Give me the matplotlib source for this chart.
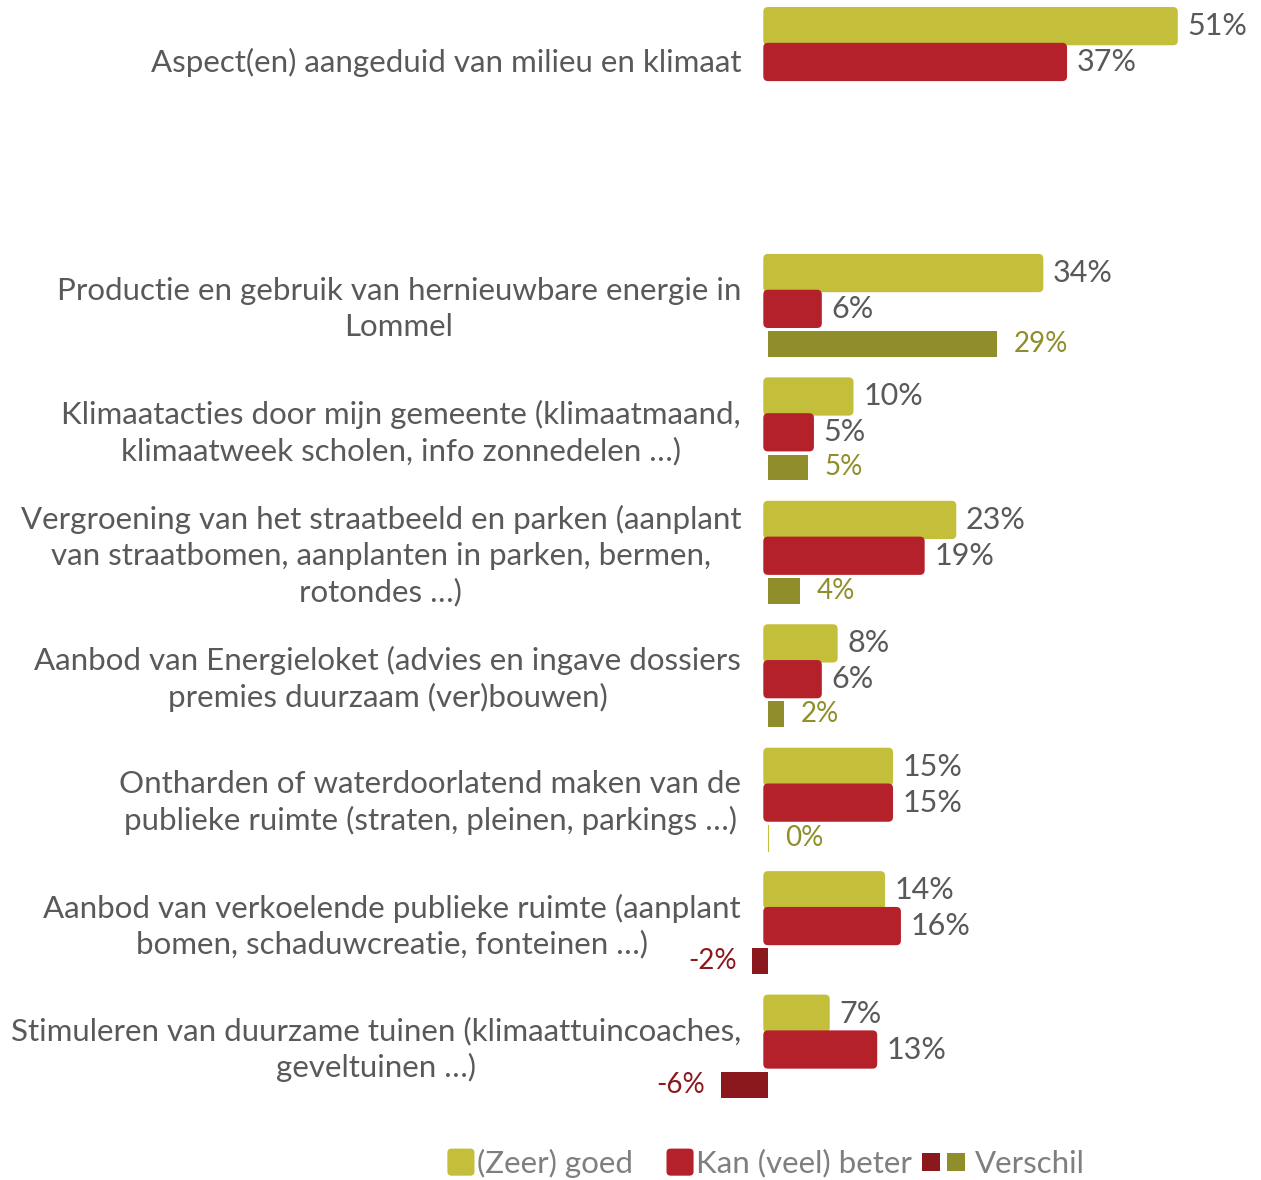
import numpy as np
import matplotlib
matplotlib.use('Agg')
import matplotlib.pyplot as plt
from matplotlib.patches import FancyBboxPatch, Rectangle
from matplotlib.legend_handler import HandlerBase

# Data
categories = [
    'Aspect(en) aangeduid van milieu en klimaat',
    '',
    'Productie en gebruik van hernieuwbare energie in\nLommel',
    'Klimaatacties door mijn gemeente (klimaatmaand,\nklimaatweek scholen, info zonnedelen …)',
    'Vergroening van het straatbeeld en parken (aanplant\nvan straatbomen, aanplanten in parken, bermen,\nrotondes …)',
    'Aanbod van Energieloket (advies en ingave dossiers\npremies duurzaam (ver)bouwen)',
    'Ontharden of waterdoorlatend maken van de\npublieke ruimte (straten, pleinen, parkings …)',
    'Aanbod van verkoelende publieke ruimte (aanplant\nbomen, schaduwcreatie, fonteinen …)',
    'Stimuleren van duurzame tuinen (klimaattuincoaches,\ngeveltuinen …)',
]
goed = [51, np.nan, 34, 10, 23, 8, 15, 14, 7]
beter = [37, np.nan, 6, 5, 19, 6, 15, 16, 13]
verschil = [np.nan, np.nan, 29, 5, 4, 2, 0, -2, -6]
legend_labels = ['(Zeer) goed', 'Kan (veel) beter', 'Verschil']

c_goed = '#c3bf3a'
c_beter = '#b5212a'
c_pos = '#8f8e2b'
c_neg = '#8b181d'
c_text = '#595959'

plt.rcParams['font.family'] = ['Lato', 'DejaVu Sans']

fig = plt.figure(figsize=(12.61, 11.8), dpi=100)
W, H = 1261, 1180
ax = fig.add_axes([681.5 / W, 1 - 1110 / H, (1252 - 681.5) / W, 1110 / H])
ax.set_xlim(-11.74, 60.38)
ax.set_ylim(8.49, -0.502)

# second axis for the difference bars (zero slightly shifted)
ax2 = ax.twiny()
ax2.set_xlim(-10.94, 61.19)

y = np.arange(len(categories))
bh = 0.31
off = 0.29
cap = 1.4  # rounded cap in front of the bars


def rounded_bars(a, ys, vals, color, h):
    for yy, v in zip(ys, vals):
        if np.isnan(v):
            continue
        p = FancyBboxPatch((-cap, yy - h / 2), v + cap, h,
                           boxstyle='round,pad=0,rounding_size=0.6',
                           mutation_aspect=0.064, fc=color, ec='none')
        a.add_patch(p)


rounded_bars(ax, y - off, goed, c_goed, bh)
rounded_bars(ax, y, beter, c_beter, bh)

dcol = [c_pos if (not np.isnan(v) and v >= 0) else c_neg for v in verschil]
ax2.barh(y + 0.285, verschil, height=0.21, color=dcol)
# zero difference drawn as hairline
for yy, v in zip(y, verschil):
    if v == 0:
        ax2.plot([0, 0], [yy + 0.285 - 0.105, yy + 0.285 + 0.105],
                 color=c_goed, lw=0.8)

fs = 22
for yy, v in zip(y, goed):
    if not np.isnan(v):
        ax.annotate(f'{v:.0f}%', (v, yy - off), xytext=(7, 0),
                    textcoords='offset points', va='center', ha='left',
                    fontsize=fs, color=c_text)
for yy, v in zip(y, beter):
    if not np.isnan(v):
        ax.annotate(f'{v:.0f}%', (v, yy), xytext=(7, 0),
                    textcoords='offset points', va='center', ha='left',
                    fontsize=fs, color=c_text)
for yy, v in zip(y, verschil):
    if np.isnan(v):
        continue
    if v >= 0:
        ax2.annotate(f'{v:.0f}%', (v, yy + 0.285), xytext=(12, 0),
                     textcoords='offset points', va='center', ha='left',
                     fontsize=20, color=c_pos)
    else:
        ax2.annotate(f'{v:.0f}%', (v, yy + 0.285), xytext=(-11, 0),
                     textcoords='offset points', va='center', ha='right',
                     fontsize=20, color=c_neg)

for yy, lab in zip(y, categories):
    ax.annotate(lab, (-cap, yy), xytext=(-16, 0), textcoords='offset points',
                va='center', ha='right', ma='center', fontsize=22.5,
                color=c_text, linespacing=1.32)

for a in (ax, ax2):
    a.axis('off')


class SquaresHandler(HandlerBase):
    def __init__(self, colors, size, gap=5, rounded=False, align='right'):
        super().__init__()
        self.colors = colors
        self.size = size
        self.gap = gap
        self.rounded = rounded
        self.align = align

    def create_artists(self, legend, orig_handle, xdescent, ydescent,
                       width, height, fontsize, trans):
        n = len(self.colors)
        s = self.size
        total = n * s + (n - 1) * self.gap
        x0 = (width - total if self.align == 'right' else 0) - xdescent
        y0 = (height - s) / 2 - ydescent
        arts = []
        for i, c in enumerate(self.colors):
            x = x0 + i * (s + self.gap)
            if self.rounded:
                p = FancyBboxPatch((x, y0), s, s,
                                   boxstyle='round,pad=0,rounding_size=3',
                                   fc=c, ec='none', transform=trans)
            else:
                p = Rectangle((x, y0), s, s, fc=c, ec='none',
                              transform=trans)
            arts.append(p)
        return arts


h1, h2, h3 = Rectangle((0, 0), 1, 1), Rectangle((0, 0), 1, 1), Rectangle((0, 0), 1, 1)
fig.legend([h1, h2, h3], legend_labels,
           handler_map={h1: SquaresHandler([c_goed], 19.5, rounded=True),
                        h2: SquaresHandler([c_beter], 19.5, rounded=True),
                        h3: SquaresHandler([c_neg, c_pos], 13, gap=5,
                                           align='left')},
           loc='center', bbox_to_anchor=(0.598, 1 - 1163 / H), ncol=3,
           frameon=False, fontsize=22.5, labelcolor='#7f7f7f',
           handlelength=1.63, handleheight=1.0, handletextpad=0.07,
           columnspacing=0.32)

fig.savefig('out.png', dpi=100)
